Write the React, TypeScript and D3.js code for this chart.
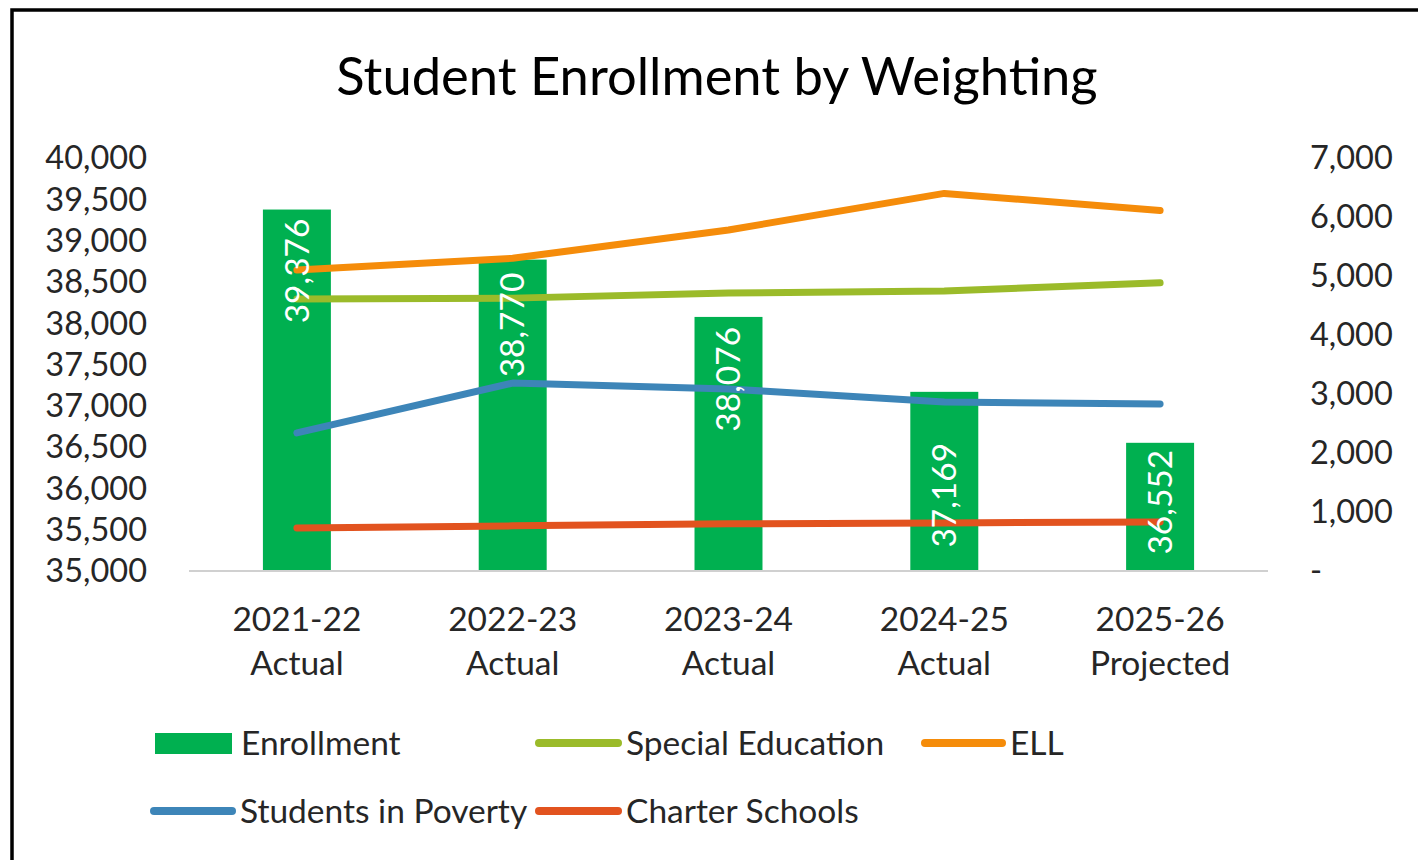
import React from "react";
import * as d3 from "d3";

const categories = ["2021-22|Actual", "2022-23|Actual", "2023-24|Actual", "2024-25|Actual", "2025-26|Projected"];
const enrollment = [39376, 38770, 38076, 37169, 36552];
const specialEducation = [4610, 4625, 4710, 4745, 4885];
const ell = [5100, 5300, 5780, 6400, 6110];
const poverty = [2340, 3185, 3085, 2865, 2830];
const charter = [730, 765, 800, 815, 830];
const leftTicks = [35000, 35500, 36000, 36500, 37000, 37500, 38000, 38500, 39000, 39500, 40000];
const rightTicks = [0, 1000, 2000, 3000, 4000, 5000, 6000, 7000];

const FONT = "Lato, 'Open Sans', sans-serif";
const COLORS = {
  enrollment: "#00B050",
  sped: "#9BBB2A",
  ell: "#F58C0A",
  poverty: "#3D85B8",
  charter: "#E2531F",
};

export default function App() {
  const W = 1418, H = 860;
  const x = d3.scaleBand<string>().domain(categories).range([189, 1268]).paddingInner(0.685).paddingOuter(0.3425);
  const yL = d3.scaleLinear().domain([35000, 40000]).range([571, 158]);
  const yR = d3.scaleLinear().domain([0, 7000]).range([571, 158]);
  const cx = (c: string) => (x(c) ?? 0) + x.bandwidth() / 2;
  const fmt = d3.format(",");

  const lineGen = d3.line<number>()
    .x((_, i) => cx(categories[i]))
    .y((d) => yR(d))
    .curve(d3.curveLinear);

  const series = [
    { key: "sped", data: specialEducation },
    { key: "ell", data: ell },
    { key: "poverty", data: poverty },
    { key: "charter", data: charter },
  ];

  // label inset (px) from bar top, as placed in the original
  const labelInset = [9, 13, 10, 51, 7];

  const legend = [
    { label: "Enrollment", type: "bar", color: COLORS.enrollment, x0: 155, x1: 232, tx: 241, y: 743 },
    { label: "Special Education", type: "line", color: COLORS.sped, x0: 539, x1: 618, tx: 626, y: 743 },
    { label: "ELL", type: "line", color: COLORS.ell, x0: 925, x1: 1002, tx: 1010, y: 743 },
    { label: "Students in Poverty", type: "line", color: COLORS.poverty, x0: 154, x1: 232, tx: 240, y: 811 },
    { label: "Charter Schools", type: "line", color: COLORS.charter, x0: 539, x1: 618, tx: 626, y: 811 },
  ];

  const TXT = "#262626";

  return (
    <svg width={W} height={H} style={{ position: "absolute", left: 0, top: 0, background: "#fff" }} fontFamily={FONT}>
      <rect x={0} y={0} width={W} height={H} fill="#fff" />
      <rect x={12} y={10} width={W + 20} height={H + 20} fill="none" stroke="#000" strokeWidth={3.5} />
      <text x={717} y={95} textAnchor="middle" fontSize={52.5} fill="#000">Student Enrollment by Weighting</text>

      {/* left axis labels */}
      {leftTicks.map((t) => (
        <text key={"l" + t} x={147} y={yL(t)} dy="0.35em" textAnchor="end" fontSize={32.5} fill={TXT}>{fmt(t)}</text>
      ))}
      {/* right axis labels */}
      {rightTicks.map((t) => (
        <text key={"r" + t} x={1310} y={yR(t)} dy="0.35em" textAnchor="start" fontSize={32.5} fill={TXT}>{t === 0 ? "-" : fmt(t)}</text>
      ))}

      {/* bars */}
      {enrollment.map((v, i) => (
        <rect key={"b" + i} x={x(categories[i])} y={yL(v)} width={x.bandwidth()} height={yL(35000) - yL(v)} fill={COLORS.enrollment} />
      ))}
      {/* axis line */}
      <line x1={189} x2={1268} y1={yL(35000)} y2={yL(35000)} stroke="#D0D0D0" strokeWidth={2} />

      {/* lines */}
      {series.map((s) => (
        <path key={s.key} d={lineGen(s.data) ?? ""} fill="none" stroke={(COLORS as any)[s.key]} strokeWidth={7} strokeLinecap="round" strokeLinejoin="round" />
      ))}

      {/* bar labels */}
      {enrollment.map((v, i) => {
        const px = cx(categories[i]);
        const py = yL(v) + labelInset[i];
        return (
          <text key={"bl" + i} transform={`translate(${px},${py}) rotate(-90)`} dy="0.35em" textAnchor="end" fontSize={33.5} fill="#fff">{fmt(v)}</text>
        );
      })}

      {/* category labels */}
      {categories.map((c) => {
        const [a, b] = c.split("|");
        return (
          <g key={c}>
            <text x={cx(c)} y={631} textAnchor="middle" fontSize={33.5} fill={TXT}>{a}</text>
            <text x={cx(c)} y={675} textAnchor="middle" fontSize={33.5} fill={TXT}>{b}</text>
          </g>
        );
      })}

      {/* legend */}
      {legend.map((l) => (
        <g key={l.label}>
          {l.type === "bar" ? (
            <rect x={l.x0} y={l.y - 10} width={l.x1 - l.x0} height={21} fill={l.color} />
          ) : (
            <line x1={l.x0} x2={l.x1} y1={l.y} y2={l.y} stroke={l.color} strokeWidth={8} strokeLinecap="round" />
          )}
          <text x={l.tx} y={l.y} dy="0.35em" fontSize={33.5} fill={TXT}>{l.label}</text>
        </g>
      ))}
    </svg>
  );
}
